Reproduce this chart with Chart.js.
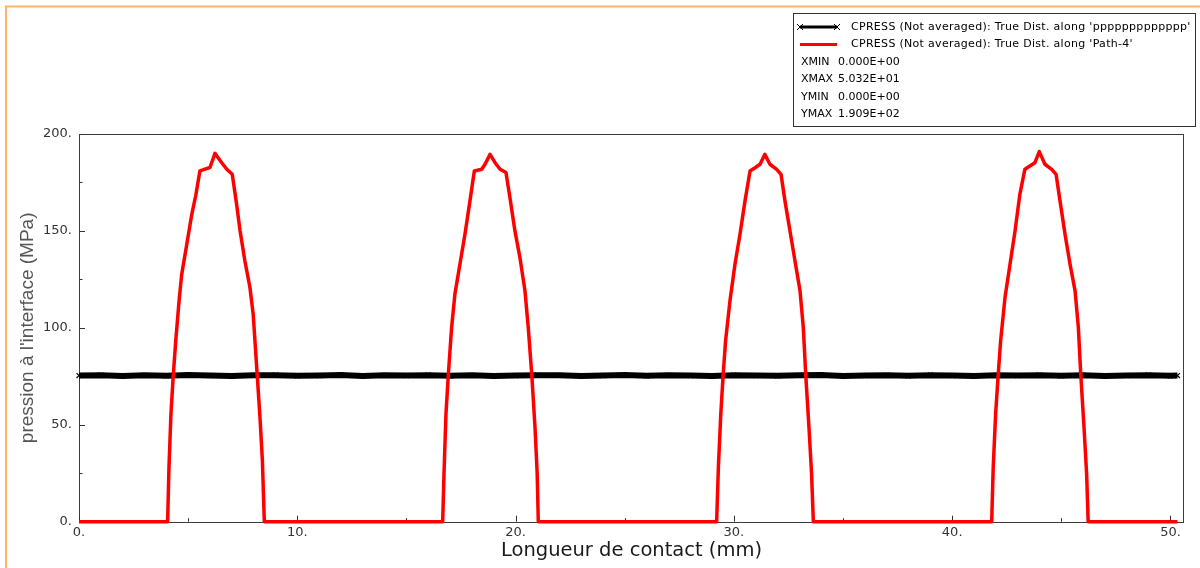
<!DOCTYPE html>
<html><head><meta charset="utf-8">
<script src="https://cdn.jsdelivr.net/npm/chart.js@4.4.0/dist/chart.umd.min.js"></script>
<style>html,body{margin:0;padding:0;background:#fff;} #wrap{width:1200px;height:568px;position:relative;}</style>
</head><body><div id="wrap"><canvas id="c" width="1200" height="568"></canvas></div>
<script>
const xAxisTitle = 'Longueur de contact (mm)';
const yAxisTitle = "pression à l'interface (MPa)";
const seriesNames = ["CPRESS (Not averaged): True Dist. along 'ppppppppppppp'", "CPRESS (Not averaged): True Dist. along 'Path-4'"];
const statLabels = ['XMIN', 'XMAX', 'YMIN', 'YMAX'];
const statValues = ['0.000E+00', '5.032E+01', '0.000E+00', '1.909E+02'];
const xTickValues = [0, 10, 20, 30, 40, 50];
const xTickLabels = ['0.', '10.', '20.', '30.', '40.', '50.'];
const yTickValues = [0, 50, 100, 150, 200];
const yTickLabels = ['0.', '50.', '100.', '150.', '200.'];

const blackX = [0,1,2,3,4,5,6,7,8,9,10,11,12,13,14,15,16,17,18,19,20,21,22,23,24,25,26,27,28,29,30,31,32,33,34,35,36,37,38,39,40,41,42,43,44,45,46,47,48,49,50,50.32];
const blackY = [75.4,75.6,75.2,75.5,75.3,75.7,75.4,75.1,75.5,75.6,75.3,75.4,75.7,75.2,75.5,75.4,75.6,75.3,75.5,75.1,75.4,75.6,75.5,75.2,75.4,75.7,75.3,75.5,75.4,75.2,75.6,75.4,75.3,75.5,75.7,75.2,75.4,75.5,75.3,75.6,75.4,75.1,75.5,75.4,75.6,75.3,75.5,75.2,75.4,75.6,75.3,75.4];

const redX = [0,
 4.06,4.12,4.21,4.32,4.43,4.58,4.70,4.93,5.16,5.35,5.54,5.77,6.00,6.23,6.54,6.77,7.02,7.22,7.38,7.60,7.83,7.98,8.14,8.29,8.40,8.49,
 16.66,16.72,16.81,16.92,17.07,17.22,17.45,17.68,17.91,18.11,18.45,18.60,18.83,19.06,19.29,19.56,19.74,19.97,20.20,20.43,20.58,20.74,20.89,20.99,21.04,
 29.21,29.29,29.40,29.51,29.62,29.82,30.05,30.28,30.51,30.74,30.97,31.20,31.42,31.65,31.96,32.16,32.34,32.57,32.80,33.03,33.18,33.29,33.44,33.56,33.64,
 41.81,41.88,41.99,42.11,42.22,42.42,42.65,42.88,43.10,43.33,43.56,43.79,43.99,44.25,44.56,44.76,44.94,45.17,45.40,45.63,45.78,45.89,46.04,46.16,46.23,
 50.32];
const redY = [0,
 0,27.5,55.2,75.9,93,113.4,127.2,142.6,158.1,168.4,181,181.9,182.7,190,185.2,181.8,179.2,163.7,150,134.5,120.8,107,79.7,54,31.8,0,
 0,24.6,55.5,76.1,100.2,117.4,132.8,148.3,165.5,180.9,181.8,184.4,189.5,185.2,181.8,180.1,167.2,150,136.2,119.1,100.2,76.1,48.6,24.6,0,
 0,28,55.5,76.1,93.3,113.9,132.8,148.3,165.5,180.9,182.6,184.4,189.5,184.4,181.8,179.2,165.5,150,134.5,119.1,100.2,76.1,48.6,24.6,0,
 0,28,55.5,76.1,93.3,115.6,132.8,150,168.9,181.8,183.5,185.2,190.9,184.4,181.8,179.2,165.5,148.3,132.8,119.1,100.2,76.1,48.6,24.6,0,
 0];

function pairs(xs, ys) { return xs.map((x, i) => ({x: x, y: ys[i]})); }

const decor = {
  id: 'decor',
  beforeDraw(chart) {
    const ctx = chart.ctx;
    ctx.save(); ctx.fillStyle = '#fff'; ctx.fillRect(0, 0, chart.width, chart.height); ctx.restore();
  },
  beforeDatasetsDraw(chart) {
    const ctx = chart.ctx, a = chart.chartArea, xs = chart.scales.x, ys = chart.scales.y;
    ctx.save();
    ctx.strokeStyle = '#3c3c3c'; ctx.lineWidth = 1;
    ctx.strokeRect(Math.round(a.left) + 0.5, Math.round(a.top) + 0.5, Math.round(a.right - a.left) - 1, Math.round(a.bottom - a.top));
    ctx.strokeStyle = '#333';
    xs.ticks.forEach(t => {
      const px = Math.round(xs.getPixelForValue(t.value)) + 0.5;
      ctx.beginPath(); ctx.moveTo(px, a.bottom); ctx.lineTo(px, a.bottom - 6); ctx.stroke();
      const m = t.value + 5;
      if (m < xs.max) {
        const pm = Math.round(xs.getPixelForValue(m)) + 0.5;
        ctx.beginPath(); ctx.moveTo(pm, a.bottom); ctx.lineTo(pm, a.bottom - 3.5); ctx.stroke();
      }
    });
    ys.ticks.forEach(t => {
      const py = Math.round(ys.getPixelForValue(t.value)) + 0.5;
      ctx.beginPath(); ctx.moveTo(a.left, py); ctx.lineTo(a.left + 6, py); ctx.stroke();
      const m = t.value + 25;
      if (m < ys.max) {
        const pm = Math.round(ys.getPixelForValue(m)) + 0.5;
        ctx.beginPath(); ctx.moveTo(a.left, pm); ctx.lineTo(a.left + 3.5, pm); ctx.stroke();
      }
    });
    ctx.restore();
  },
  afterDraw(chart) {
    const ctx = chart.ctx;
    ctx.save();
    const bx = 793.5, by = 13.5, bw = 402, bh = 113;
    ctx.fillStyle = '#fff'; ctx.fillRect(bx, by, bw, bh);
    ctx.strokeStyle = '#333'; ctx.lineWidth = 1; ctx.strokeRect(bx, by, bw, bh);
    const rowY = [27, 44.5, 62, 79.5, 97, 114.5];
    ctx.font = '11px "DejaVu Sans"'; ctx.fillStyle = '#000'; ctx.textBaseline = 'middle'; ctx.textAlign = 'left';
    const ds = chart.data.datasets;
    ds.forEach((d, i) => {
      const y = rowY[i];
      ctx.strokeStyle = d.borderColor; ctx.lineWidth = 3;
      ctx.beginPath(); ctx.moveTo(800, y); ctx.lineTo(837, y); ctx.stroke();
      if (i === 0) {
        ctx.lineWidth = 1;
        [800, 837].forEach(cx => {
          ctx.beginPath(); ctx.moveTo(cx - 3, y - 3); ctx.lineTo(cx + 3, y + 3);
          ctx.moveTo(cx - 3, y + 3); ctx.lineTo(cx + 3, y - 3); ctx.stroke();
        });
      }
      ctx.letterSpacing = '0.3px';
      ctx.fillText(d.label, 851, y);
      ctx.letterSpacing = '0px';
    });
    statLabels.forEach((s, i) => {
      const y = rowY[i + 2];
      ctx.fillText(s, 801, y);
      ctx.fillText(statValues[i], 838, y);
    });
    ctx.strokeStyle = '#ffb366'; ctx.lineWidth = 2;
    ctx.beginPath(); ctx.moveTo(6, 568); ctx.lineTo(6, 6.5); ctx.lineTo(1200, 6.5); ctx.stroke();
    ctx.restore();
  }
};

new Chart(document.getElementById('c'), {
  type: 'scatter',
  data: {
    datasets: [
      { label: seriesNames[0], data: pairs(blackX, blackY), showLine: true, borderColor: '#000', backgroundColor: '#000',
        borderWidth: 6, pointStyle: 'crossRot', pointRadius: 3.5, pointBorderWidth: 1.2, pointBorderColor: '#000', tension: 0, order: 2, clip: false },
      { label: seriesNames[1], data: pairs(redX, redY), showLine: true, borderColor: '#ff0000', backgroundColor: '#ff0000',
        borderWidth: 3.5, pointRadius: 0, tension: 0, order: 1, clip: false, borderJoinStyle: 'round' }
    ]
  },
  options: {
    responsive: false, animation: false, devicePixelRatio: 1,
    layout: { padding: { left: 0, right: 16, top: 134, bottom: 0 } },
    plugins: { legend: { display: false }, tooltip: { enabled: false } },
    scales: {
      x: {
        type: 'linear', min: 0, max: 50.62,
        afterFit(s) { s.height = 46.3; },
        afterBuildTicks(s) { s.ticks = xTickValues.map(v => ({ value: v })); },
        border: { display: false }, grid: { display: false, drawTicks: false },
        ticks: { autoSkip: false, maxRotation: 0, padding: 3, color: '#333',
          font: { family: 'DejaVu Sans', size: 13 },
          callback: (v) => xTickLabels[xTickValues.indexOf(v)] },
        title: { display: true, text: xAxisTitle, color: '#1a1a1a', font: { family: 'DejaVu Sans', size: 19.5 }, padding: { top: 0, bottom: 5 } }
      },
      y: {
        type: 'linear', min: 0, max: 200,
        afterFit(s) { s.width = 79; },
        afterBuildTicks(s) { s.ticks = yTickValues.map(v => ({ value: v })); },
        border: { display: false }, grid: { display: false, drawTicks: false },
        ticks: { autoSkip: false, padding: 7, color: '#333',
          font: { family: 'DejaVu Sans', size: 13 },
          callback: (v) => yTickLabels[yTickValues.indexOf(v)] },
        title: { display: true, text: yAxisTitle, color: '#555', font: { family: 'Liberation Sans', size: 19 }, padding: { top: 16, bottom: 0 } }
      }
    }
  },
  plugins: [decor]
});
</script>
</body></html>
